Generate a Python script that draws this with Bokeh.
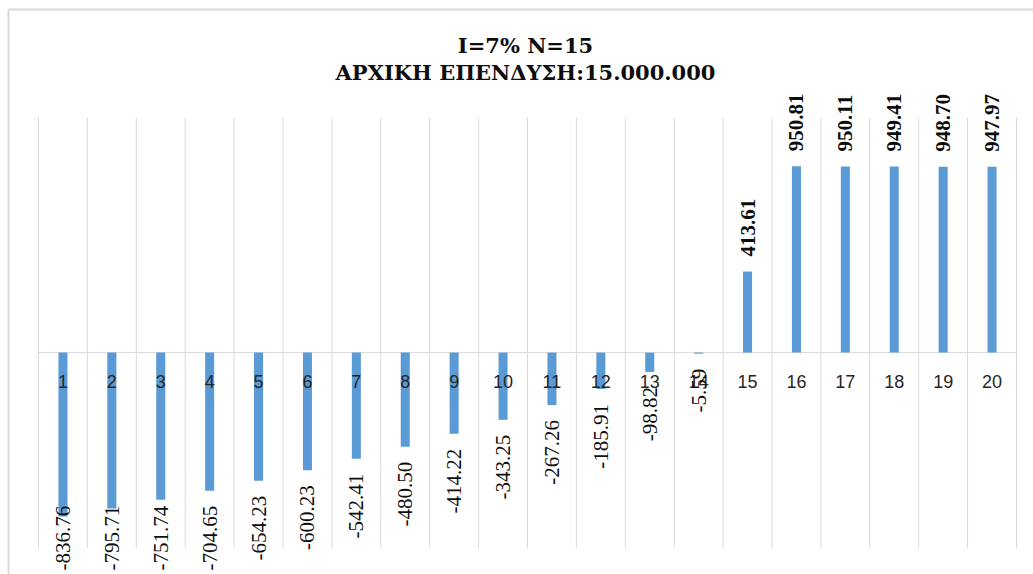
from math import pi
from bokeh.plotting import figure
from bokeh.models import Range1d, ColumnDataSource
from bokeh.core.properties import value
from bokeh.embed import file_html
from bokeh.resources import INLINE

# ---- data ----
periods = list(range(1, 21))
npv_values = [-836.76, -795.71, -751.74, -704.65, -654.23, -600.23, -542.41, -480.50,
              -414.22, -343.25, -267.26, -185.91, -98.82, -5.59, 413.61, 950.81,
              950.11, 949.41, 948.70, 947.97]
period_labels = [str(v) for v in periods]
value_labels = ["%.2f" % v for v in npv_values]
title_line1 = "I=7% N=15"
title_line2 = "ΑΡΧΙΚΗ ΕΠΕΝΔΥΣΗ:15.000.000"
axis_min, axis_max = -1000, 1200

# ---- layout (pixel geometry) ----
W, H = 1033, 574
PLOT_LEFT, PLOT_RIGHT = 38, 1016
PLOT_TOP, PLOT_BOTTOM = 117, 548
n = len(periods)
cat_px = (PLOT_RIGHT - PLOT_LEFT) / n
val_px = (PLOT_BOTTOM - PLOT_TOP) / (axis_max - axis_min)
zero_px = PLOT_TOP + axis_max * val_px

def dx(px):
    return (px - PLOT_LEFT) / cat_px

def dy(py):
    return (zero_px - py) / val_px

p = figure(width=W, height=H, output_backend="svg", toolbar_location=None,
           x_range=Range1d(dx(0), dx(W)), y_range=Range1d(dy(H), dy(0)),
           x_axis_location=None, y_axis_location=None, min_border=0)
p.grid.visible = False
p.outline_line_color = None
p.background_fill_color = "white"
p.border_fill_color = "white"

GRID = "#d9d9d9"
TXT = "#0d0d0d"
# chart border (top & left visible)
p.segment(x0=[dx(8), dx(8)], y0=[dy(9), dy(9)], x1=[dx(W + 5), dx(8)], y1=[dy(9), dy(H + 5)],
          line_color=GRID, line_width=2)

# vertical category gridlines
bounds = list(range(0, n + 1))
p.segment(x0=bounds, y0=[axis_min] * len(bounds), x1=bounds, y1=[axis_max] * len(bounds),
          line_color=GRID, line_width=1)
# zero line
p.segment(x0=[0], y0=[0], x1=[n], y1=[0], line_color=GRID, line_width=1)

centers = [i - 0.5 for i in periods]
src = ColumnDataSource(dict(x=centers, top=npv_values, lab=value_labels, cat=period_labels))
p.vbar(x="x", top="top", bottom=0, width=0.185, source=src, fill_color="#5b9bd5", line_color=None)

# category labels just below zero line
p.text(x="x", y=0, text="cat", source=src, text_font=value("Liberation Sans"),
       text_font_size="18px", text_color="#262626", text_align="center",
       text_baseline="middle", y_offset=29)

# value labels
pos = [i for i, v in enumerate(npv_values) if v >= 0]
neg = [i for i, v in enumerate(npv_values) if -700 <= v < 0]
clamp = [i for i, v in enumerate(npv_values) if v < -700]

p.text(x=[centers[i] for i in pos], y=[npv_values[i] for i in pos],
       text=[value_labels[i] for i in pos], angle=pi / 2,
       text_font=value("Liberation Serif"), text_font_style="bold", text_font_size="21px",
       text_color=TXT, text_align="left", text_baseline="middle", y_offset=-15)

p.text(x=[centers[i] for i in neg], y=[npv_values[i] for i in neg],
       text=[value_labels[i] for i in neg], angle=pi / 2,
       text_font=value("Liberation Serif"), text_font_size="21px",
       text_color=TXT, text_align="right", text_baseline="middle", y_offset=15)

p.text(x=[centers[i] for i in clamp], y=[dy(570)] * len(clamp),
       text=[value_labels[i] for i in clamp], angle=pi / 2,
       text_font=value("Liberation Serif"), text_font_size="21px",
       text_color=TXT, text_align="left", text_baseline="middle")

# title
p.text(x=[dx(525)], y=[dy(45)], text=[title_line1], text_font=value("DejaVu Serif"),
       text_font_style="bold", text_font_size="21px", text_color=TXT,
       text_align="center", text_baseline="middle")
p.text(x=[dx(525)], y=[dy(72)], text=[title_line2], text_font=value("DejaVu Serif"),
       text_font_style="bold", text_font_size="21px", text_color=TXT,
       text_align="center", text_baseline="middle")

open("out.html", "w").write(file_html(p, INLINE))
